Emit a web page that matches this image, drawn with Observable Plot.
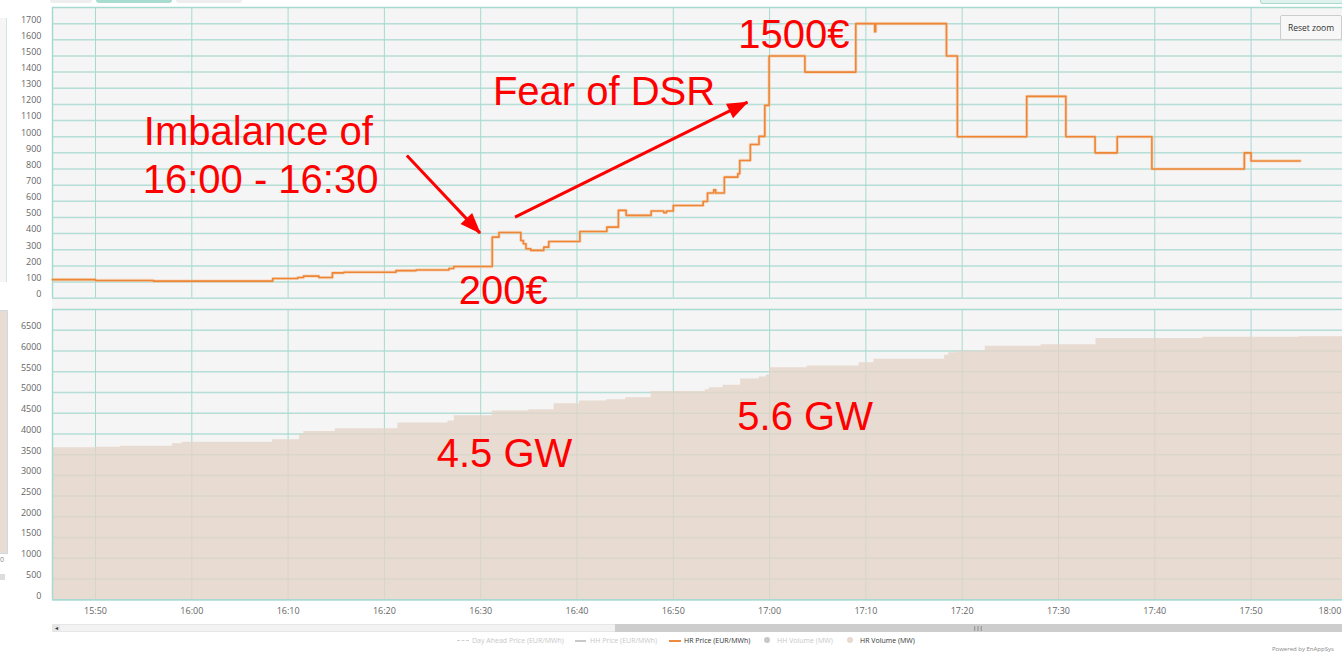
<!DOCTYPE html>
<html><head><meta charset="utf-8">
<script src="https://cdn.jsdelivr.net/npm/d3@7"></script>
<script src="https://cdn.jsdelivr.net/npm/@observablehq/plot@0.6"></script>
<style>
html,body{margin:0;padding:0;background:#fff;overflow:hidden;width:1342px;height:653px;}
#wrap{position:relative;width:1342px;height:653px;overflow:hidden;font-family:"Open Sans",sans-serif;}
.abs{position:absolute;}
#top{position:absolute;left:0;top:0;z-index:3;}
#bot{position:absolute;left:0;top:300px;z-index:2;}
.lg{position:absolute;top:636px;font-size:7px;line-height:9px;white-space:nowrap;color:#c8c8c8;}
.lg.on{color:#333;}
</style></head><body><div id="wrap">
<!-- chrome around the chart -->
<div class="abs" style="left:50px;top:0;width:42px;height:3px;background:#eee;border-radius:0 0 3px 3px"></div>
<div class="abs" style="left:96px;top:0;width:76px;height:3px;background:#a8dcd0;border-radius:0 0 3px 3px"></div>
<div class="abs" style="left:176px;top:0;width:66px;height:3px;background:#eee;border-radius:0 0 3px 3px"></div>
<div class="abs" style="left:1260px;top:0;width:82px;height:3px;background:#dff2ee;border:1px solid #a8dcd0;border-top:none;border-radius:0 0 3px 3px"></div>
<div class="abs" style="left:0;top:18px;width:6px;height:264px;background:#f5f5f5;border-right:1px solid #cfe8e2"></div>
<div class="abs" style="left:0;top:310px;width:7px;height:242px;background:#e8dcd3;border:1px solid #cfd9e6;border-left:none"></div>
<div class="abs" style="left:0;top:555px;font-size:7px;color:#888">0</div>
<div class="abs" style="left:0;top:574px;width:5px;height:6px;background:#ddd"></div>
<div class="abs" style="left:52px;top:297px;width:1290px;height:12px;background:#f5f5f5"></div>
<div class="abs" style="left:1280px;top:15px;width:60px;height:23px;background:#f7f7f7;border:1px solid #ccc;border-radius:2px;font-size:8.5px;line-height:23px;text-align:center;color:#333;z-index:5">Reset zoom</div>
<!-- scrollbar -->
<div class="abs" style="left:52px;top:624px;width:1290px;height:8px;background:#f2f2f2;border:1px solid #e6e6e6;box-sizing:border-box"></div>
<div class="abs" style="left:52px;top:624px;width:8px;height:8px;background:#e6e6e6;font-size:6px;line-height:8px;text-align:center;color:#333">&#9666;</div>
<div class="abs" style="left:615px;top:624px;width:727px;height:8px;background:#cdcdcd"></div>
<div class="abs" style="left:973px;top:624px;font-size:6px;line-height:8px;color:#333">|||</div>
<!-- legend -->
<div class="abs" style="left:457px;top:640px;width:12px;border-top:1px dashed #d0d0d0"></div>
<div class="lg" style="left:472px">Day Ahead Price (EUR/MWh)</div>
<div class="abs" style="left:575px;top:640px;width:11px;height:1.5px;background:#c8c8c8"></div>
<div class="lg" style="left:590px">HH Price (EUR/MWh)</div>
<div class="abs" style="left:669px;top:640px;width:12px;height:2px;background:#ef8b3f"></div>
<div class="lg on" style="left:684px">HR Price (EUR/MWh)</div>
<div class="abs" style="left:764px;top:637px;width:6px;height:6px;border-radius:3px;background:#c8c8c8"></div>
<div class="lg" style="left:777px">HH Volume (MW)</div>
<div class="abs" style="left:847px;top:637px;width:6px;height:6px;border-radius:3px;background:#ead9cf"></div>
<div class="lg on" style="left:860px">HR Volume (MW)</div>
<div class="abs" style="left:1272px;top:645px;font-size:6px;color:#888;white-space:nowrap">Powered by EnAppSys</div>
<div id="top"></div>
<div id="bot"></div>
</div>
<script>
// ---------- data ----------
const xStart = "15:45:32";
const xEnd = "18:05:31";
const timeTickLabels = ["15:50","16:00","16:10","16:20","16:30","16:40","16:50","17:00","17:10","17:20","17:30","17:40","17:50","18:00"];
const priceTicks = [0,100,200,300,400,500,600,700,800,900,1000,1100,1200,1300,1400,1500,1600,1700];
const volTicks = [0,500,1000,1500,2000,2500,3000,3500,4000,4500,5000,5500,6000,6500];

// HR Price (EUR/MWh), step series
const priceTimes = ["15:45:32","15:50:00","15:56:00","16:08:24","16:11:00","16:11:36","16:13:12","16:14:36","16:15:48","16:21:12","16:23:18","16:26:42","16:27:12","16:31:12","16:31:54","16:34:10","16:34:26","16:34:42","16:35:12","16:36:33","16:37:04","16:40:18","16:43:06","16:44:18","16:45:06","16:47:42","16:49:00","16:49:18","16:50:00","16:53:06","16:53:33","16:54:12","16:54:24","16:55:18","16:56:42","16:56:54","16:58:00","16:58:54","16:59:30","16:59:57","17:03:40","17:08:57","17:10:55","17:11:01","17:18:22","17:19:30","17:26:42","17:30:46","17:33:48","17:36:06","17:39:42","17:49:18","17:50:00","17:55:06"];
const priceValues = [115,110,106,122,128,137,128,157,161,171,175,184,196,378,407,357,337,306,296,316,351,413,440,544,513,540,530,540,574,599,651,671,651,750,771,853,952,1002,1194,1500,1400,1700,1650,1700,1500,1000,1250,1000,900,1000,800,900,850,850];

// HR Volume (MW), step series
const volTimes = ["15:45:32","15:50:00","15:52:36","15:58:00","15:59:00","16:08:24","16:11:12","16:11:38","16:14:54","16:21:24","16:26:36","16:27:16","16:31:12","16:35:00","16:37:38","16:40:16","16:43:06","16:45:04","16:47:42","16:53:20","16:53:45","16:55:11","16:57:00","16:58:56","16:59:40","17:00:00","17:03:54","17:09:18","17:10:50","17:18:10","17:18:36","17:19:32","17:22:24","17:28:12","17:33:54","17:45:00","17:55:00","18:05:31"];
const volValues = [3665,3680,3700,3760,3796,3860,3990,4060,4126,4263,4311,4440,4552,4585,4730,4794,4826,4875,5020,5066,5114,5171,5324,5372,5420,5598,5638,5718,5799,5895,5959,5991,6112,6150,6300,6330,6345,6355];

// annotations
const priceNoteTimes = ["15:55:01","15:54:54","16:31:16","16:56:45","16:27:44"];
const priceNoteValues = [946,652,1194,1549,-35];
const priceNoteTexts = ["Imbalance of","16:00 - 16:30","Fear of DSR","1500€","200€"];
const volNoteTimes = ["16:25:26","16:56:39"];
const volNoteValues = [3192,4102];
const volNoteTexts = ["4.5 GW","5.6 GW"];
const arrowFromTimes = ["16:22:20","16:33:34"];
const arrowFromValues = [884,502];
const arrowToTimes = ["16:29:56","16:57:42"];
const arrowToValues = [403,1214];

// ---------- build ----------
const T = s => { const [h,m,sec] = s.split(":").map(Number); return new Date(Date.UTC(2019,7,9,h,m,sec||0)); };
const xDomain = [T(xStart), T(xEnd)];
const xTicks = timeTickLabels.map(T);
const price = priceTimes.map((t,i) => ({time:T(t), value:priceValues[i]}));
const vol = volTimes.map((t,i) => ({time:T(t), value:volValues[i]}));
const priceNotes = priceNoteTimes.map((t,i) => ({time:T(t), value:priceNoteValues[i], text:priceNoteTexts[i]}));
const volNotes = volNoteTimes.map((t,i) => ({time:T(t), value:volNoteValues[i], text:volNoteTexts[i]}));
const arrows = arrowFromTimes.map((t,i) => ({t1:T(t), v1:arrowFromValues[i], t2:T(arrowToTimes[i]), v2:arrowToValues[i]}));

const GRID_H = "#b4ded6", GRID_V = "#a6dad0", FRAME = "#a6dad0";
const W = 1400;
const svgStyle = {background:"transparent", maxWidth:"none", overflow:"visible", fontFamily:"'Open Sans', sans-serif"};
const annFont = "'Liberation Sans', Arial, sans-serif";
const plain = d3.format("d");
const hm = d3.utcFormat("%H:%M");

function headMarker(color) {
  const ns = "http://www.w3.org/2000/svg";
  const m = document.createElementNS(ns, "marker");
  m.setAttribute("viewBox", "-20 -8 21 16");
  m.setAttribute("markerWidth", 21);
  m.setAttribute("markerHeight", 16);
  m.setAttribute("markerUnits", "userSpaceOnUse");
  m.setAttribute("orient", "auto");
  m.setAttribute("refX", 0);
  m.setAttribute("refY", 0);
  m.setAttribute("overflow", "visible");
  const p = document.createElementNS(ns, "path");
  p.setAttribute("d", "M1,0L-20,-8L-20,8Z");
  p.setAttribute("fill", color);
  p.setAttribute("stroke", "none");
  m.appendChild(p);
  m.attr = function(k, v) { this.setAttribute(k, v); return this; };
  m.node = function() { return this; };
  return m;
}

const topChart = Plot.plot({
  width: W, height: 312,
  marginLeft: 52, marginRight: 0, marginTop: 7, marginBottom: 14.3,
  style: svgStyle,
  x: {type:"utc", domain:xDomain, axis:null},
  y: {domain:[0,1800], axis:null, label:null},
  marks: [
    Plot.frame({fill:"#f5f5f5", stroke:null}),
    Plot.ruleY(priceTicks, {stroke:GRID_H, strokeWidth:1.5}),
    Plot.ruleX(xTicks, {stroke:GRID_V, strokeWidth:1}),
    Plot.ruleY([1800], {stroke:FRAME, strokeWidth:1.5}),
    Plot.ruleX([xDomain[0]], {stroke:FRAME, strokeWidth:1.5}),
    Plot.axisY(priceTicks, {anchor:"left", tickSize:0, tickPadding:11, dy:-4, fontSize:9, fill:"#666", label:null, tickFormat:plain}),
    Plot.line(price, {x:"time", y:"value", curve:"step-after", stroke:"#f5c39c", strokeWidth:3.2, strokeOpacity:0.6}),
    Plot.line(price, {x:"time", y:"value", curve:"step-after", stroke:"#ee8636", strokeWidth:1.6}),
    Plot.link(arrows, {x1:"t1", y1:"v1", x2:"t2", y2:"v2", stroke:"#ff0000", strokeWidth:3, markerEnd:headMarker}),
    Plot.text(priceNotes, {x:"time", y:"value", text:"text", textAnchor:"start", lineAnchor:"bottom", fill:"#ff0000", fontSize:40, fontFamily:annFont})
  ]
});
document.getElementById("top").appendChild(topChart);

const botChart = Plot.plot({
  width: W, height: 320,
  marginLeft: 52, marginRight: 0, marginTop: 9, marginBottom: 20.7,
  style: svgStyle,
  x: {type:"utc", domain:xDomain, label:null},
  y: {domain:[0,7000], label:null},
  marks: [
    Plot.frame({fill:"#f5f5f5", stroke:null}),
    Plot.ruleY(volTicks, {stroke:GRID_H, strokeWidth:1.5}),
    Plot.ruleX(xTicks, {stroke:GRID_V, strokeWidth:1}),
    Plot.areaY(vol, {x:"time", y:"value", curve:"step-after", fill:"#e4d3c8", fillOpacity:0.78}),
    Plot.ruleY([7000], {stroke:FRAME, strokeWidth:1.5}),
    Plot.ruleY([0], {stroke:FRAME, strokeWidth:1.5}),
    Plot.ruleX([xDomain[0]], {stroke:FRAME, strokeWidth:1.5}),
    Plot.axisY(volTicks, {anchor:"left", tickSize:0, tickPadding:11, dy:-4, fontSize:9, fill:"#666", label:null, tickFormat:plain}),
    Plot.axisX(xTicks.slice(0, -1), {anchor:"bottom", tickSize:0, tickPadding:8, tickFormat:hm, fontSize:9, fill:"#666", label:null}),
    Plot.axisX(xTicks.slice(-1), {anchor:"bottom", tickSize:0, tickPadding:8, tickFormat:hm, fontSize:9, fill:"#666", label:null, textAnchor:"end", dx:-6})
  ].concat([
    Plot.text(volNotes, {x:"time", y:"value", text:"text", textAnchor:"start", lineAnchor:"bottom", fill:"#ff0000", fontSize:40, fontFamily:annFont})
  ])
});
document.getElementById("bot").appendChild(botChart);
</script>
</body></html>
